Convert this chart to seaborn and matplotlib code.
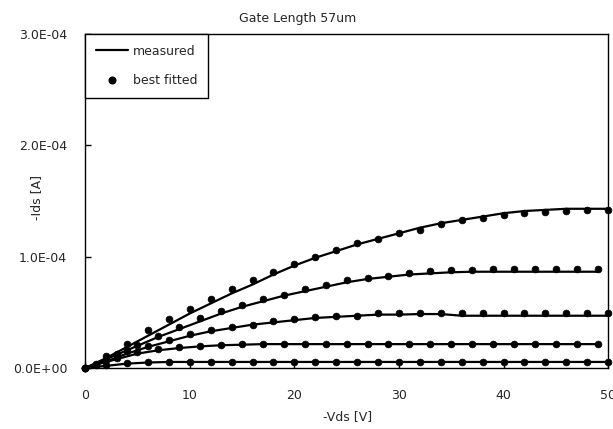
import pandas as pd
import seaborn as sns
import matplotlib.pyplot as plt
import matplotlib.ticker as mtick
from matplotlib.lines import Line2D

# -Vds grids (V)
vds_even = [0, 2, 4, 6, 8, 10, 12, 14, 16, 18, 20, 22, 24, 26, 28, 30, 32, 34, 36, 38, 40, 42, 44, 46, 48, 50]
vds_odd = [0, 1, 3, 5, 7, 9, 11, 13, 15, 17, 19, 21, 23, 25, 27, 29, 31, 33, 35, 37, 39, 41, 43, 45, 47, 49]

# -Ids in units of 1E-04 A, measured curves
meas_1 = [0, 0.09, 0.19, 0.29, 0.39, 0.49, 0.58, 0.67, 0.75, 0.84, 0.92, 0.99, 1.05, 1.11, 1.16, 1.21, 1.26, 1.30,
          1.33, 1.36, 1.39, 1.41, 1.42, 1.43, 1.43, 1.43]
meas_2 = [0, 0.04, 0.12, 0.20, 0.28, 0.35, 0.42, 0.49, 0.55, 0.60, 0.65, 0.69, 0.73, 0.77, 0.80, 0.82, 0.84, 0.85,
          0.86, 0.865, 0.865, 0.865, 0.865, 0.865, 0.865, 0.865]
meas_3 = [0, 0.06, 0.13, 0.19, 0.24, 0.29, 0.33, 0.36, 0.39, 0.41, 0.43, 0.45, 0.46, 0.47, 0.48, 0.48, 0.485, 0.485,
          0.47, 0.47, 0.47, 0.47, 0.47, 0.47, 0.47, 0.47]
meas_4 = [0, 0.03, 0.08, 0.13, 0.16, 0.18, 0.195, 0.205, 0.21, 0.215, 0.215, 0.215, 0.215, 0.215, 0.215, 0.215,
          0.215, 0.215, 0.215, 0.215, 0.215, 0.215, 0.215, 0.215, 0.215, 0.215]
meas_5 = [0, 0.02, 0.04, 0.05, 0.055, 0.055, 0.055, 0.055, 0.055, 0.055, 0.055, 0.055, 0.055, 0.055, 0.055, 0.055,
          0.055, 0.055, 0.055, 0.055, 0.055, 0.055, 0.055, 0.055, 0.055, 0.055]

# best fitted points
fit_1 = [0, 0.11, 0.22, 0.34, 0.44, 0.53, 0.62, 0.71, 0.79, 0.86, 0.93, 1.00, 1.06, 1.12, 1.16, 1.21, 1.24, 1.29,
         1.33, 1.35, 1.37, 1.39, 1.40, 1.41, 1.42, 1.42]
fit_2 = [0, 0.04, 0.13, 0.21, 0.29, 0.37, 0.45, 0.51, 0.57, 0.62, 0.66, 0.71, 0.745, 0.79, 0.81, 0.83, 0.85, 0.87,
         0.88, 0.88, 0.89, 0.89, 0.89, 0.89, 0.89, 0.89]
fit_3 = [0, 0.07, 0.15, 0.20, 0.25, 0.31, 0.34, 0.37, 0.39, 0.42, 0.44, 0.455, 0.465, 0.47, 0.49, 0.49, 0.49, 0.49,
         0.49, 0.49, 0.49, 0.49, 0.49, 0.49, 0.49, 0.49]
fit_4 = [0, 0.03, 0.09, 0.14, 0.17, 0.19, 0.20, 0.21, 0.215, 0.22, 0.22, 0.22, 0.22, 0.22, 0.22, 0.22, 0.22, 0.22,
         0.22, 0.22, 0.22, 0.22, 0.22, 0.22, 0.22, 0.22]
fit_5 = [0, 0.025, 0.045, 0.052, 0.057, 0.057, 0.057, 0.057, 0.057, 0.057, 0.057, 0.057, 0.057, 0.057, 0.057, 0.057,
         0.057, 0.057, 0.057, 0.057, 0.057, 0.057, 0.057, 0.057, 0.057, 0.057]

curves = [
    ("c1", vds_even, meas_1, fit_1),
    ("c2", vds_odd, meas_2, fit_2),
    ("c3", vds_even, meas_3, fit_3),
    ("c4", vds_odd, meas_4, fit_4),
    ("c5", vds_even, meas_5, fit_5),
]

def build(idx):
    frames = []
    for name, vds, meas, fit in curves:
        vals = meas if idx == 0 else fit
        frames.append(pd.DataFrame({"vds": vds, "ids": [v * 1e-4 for v in vals], "curve": name}))
    return pd.concat(frames, ignore_index=True)

measured = build(0)
fitted = build(1)

sns.set_theme(style="white")
plt.rcParams["font.family"] = ["DejaVu Sans"]

fig = plt.figure(figsize=(6.13, 4.29), dpi=100)
ax = fig.add_axes([0.139, 0.142, 0.853, 0.779])

sns.lineplot(data=measured, x="vds", y="ids", units="curve", estimator=None, sort=False,
             color="black", linewidth=1.6, ax=ax, legend=False)
sns.scatterplot(data=fitted, x="vds", y="ids", color="black", marker="o", s=24,
                edgecolor="black", linewidth=0.5, ax=ax, legend=False, zorder=3, clip_on=False)

ax.set_xlim(0, 50)
ax.set_ylim(0, 3e-4)
ax.set_xticks([0, 10, 20, 30, 40, 50])
ax.set_yticks([0, 1e-4, 2e-4, 3e-4])
ax.yaxis.set_major_formatter(mtick.FuncFormatter(lambda v, p: f"{v:.1E}"))
ax.tick_params(direction="in", length=4, width=1, color="black", labelsize=9,
               bottom=True, left=True)
ax.tick_params(axis="y", pad=13)
ax.tick_params(axis="x", pad=15)
for sp in ax.spines.values():
    sp.set_color("black")
    sp.set_linewidth(1)

fig.text(0.486, 0.958, "Gate Length 57um", fontsize=9, ha="center", va="center")
ax.set_xlabel("-Vds [V]", fontsize=9)
ax.set_ylabel("-Ids [A]", fontsize=9)
ax.xaxis.set_label_coords(0.502, -0.125)
ax.yaxis.set_label_coords(-0.080, 0.51)

handles = [Line2D([], [], color="black", linewidth=1.6),
           Line2D([], [], color="black", marker="o", linestyle="none", markersize=4.8)]
leg = ax.legend(handles, ["measured", "best fitted"], loc="upper left", bbox_to_anchor=(0, 1),
                borderaxespad=0, fancybox=False, framealpha=1, edgecolor="black", fontsize=9,
                handlelength=2.6, handletextpad=0.4, labelspacing=1.35, borderpad=0.85)
leg.get_frame().set_linewidth(1)

fig.savefig("out.png", dpi=100)
